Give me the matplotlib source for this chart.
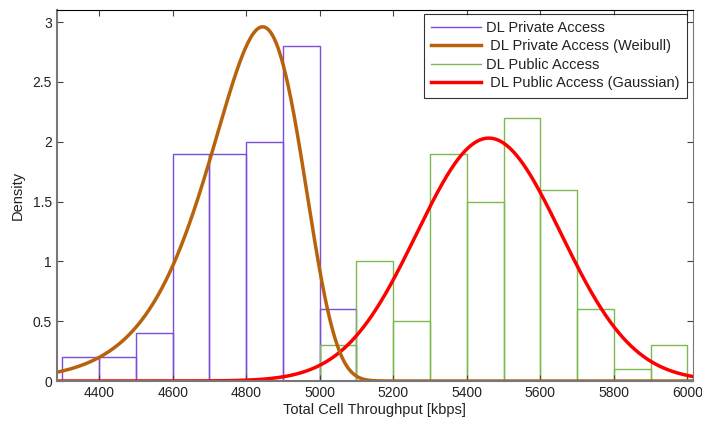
import matplotlib.pyplot as plt
from matplotlib.lines import Line2D
import numpy as np

plt.rcParams['font.family'] = ['Liberation Sans', 'DejaVu Sans']

# histogram bins (kbps) and densities (x1e-3)
bin_w = 100
priv_left = [4300, 4400, 4500, 4600, 4700, 4800, 4900, 5000]
priv_dens = [0.2, 0.2, 0.4, 1.9, 1.9, 2.0, 2.8, 0.6]
pub_left = [5000, 5100, 5200, 5300, 5400, 5500, 5600, 5700, 5800, 5900]
pub_dens = [0.3, 1.0, 0.5, 1.9, 1.5, 2.2, 1.6, 0.6, 0.1, 0.3]

# fitted distributions
wb_scale, wb_shape = 4848.0, 39.0
gs_mean, gs_sigma = 5460.0, 196.5

x_ticks = [4400, 4600, 4800, 5000, 5200, 5400, 5600, 5800, 6000]
y_ticks = [0, 0.5, 1, 1.5, 2, 2.5, 3]
y_labels = ['0', '0.5', '1', '1.5', '2', '2.5', '3']

c_priv = '#7a4fd6'
c_pub = '#7dba4e'
c_wb = '#b8620c'
c_gs = '#ff0000'

fs = 10.5

fig = plt.figure(figsize=(7.02, 4.21), dpi=100)
ax = fig.add_axes([0.081, 0.095, 0.906, 0.881])

x = np.linspace(4285, 6015, 800)
z = (x / wb_scale) ** wb_shape
wb_pdf = wb_shape / wb_scale * (x / wb_scale) ** (wb_shape - 1) * np.exp(-z) * 1e3
gs_pdf = np.exp(-0.5 * ((x - gs_mean) / gs_sigma) ** 2) / (gs_sigma * np.sqrt(2 * np.pi)) * 1e3

ax.bar(priv_left, priv_dens, width=bin_w, align='edge', fill=False,
       edgecolor=c_priv, linewidth=1.0)
ax.bar(pub_left, pub_dens, width=bin_w, align='edge', fill=False,
       edgecolor=c_pub, linewidth=1.0)
ax.plot(x, gs_pdf, color=c_gs, lw=2.5)
ax.plot(x, wb_pdf, color=c_wb, lw=2.5)

ax.set_xlim(4285, 6015)
ax.set_ylim(0, 3.1)
ax.set_xticks(x_ticks)
ax.set_yticks(y_ticks)
ax.set_yticklabels(y_labels)
ax.tick_params(direction='in', top=True, right=True, labelsize=10, length=4, colors='#444444')
for lab in ax.get_xticklabels() + ax.get_yticklabels():
    lab.set_color('#222222')
for s in ['left', 'bottom']:
    ax.spines[s].set_color('#777777')
    ax.spines[s].set_linewidth(1.5)
ax.spines['right'].set_color('#777777')
ax.spines['top'].set_color('black')

ax.set_xlabel('Total Cell Throughput [kbps]', fontsize=fs, labelpad=2, color='#222222')
ax.set_ylabel('Density', fontsize=fs, labelpad=6, color='#222222')

handles = [Line2D([], [], color=c_priv, lw=1),
           Line2D([], [], color=c_wb, lw=2.5),
           Line2D([], [], color=c_pub, lw=1),
           Line2D([], [], color=c_gs, lw=2.5)]
labels = ['DL Private Access', ' DL Private Access (Weibull)', 'DL Public Access', ' DL Public Access (Gaussian)']
leg = ax.legend(handles, labels, loc='upper right', fontsize=fs, fancybox=False, edgecolor='black',
                handlelength=3.4, handletextpad=0.35, borderpad=0.5, labelspacing=0.3,
                borderaxespad=0, bbox_to_anchor=(0.99, 0.99))
leg.get_frame().set_linewidth(0.8)
for t in leg.get_texts():
    t.set_color('#222222')

plt.savefig('out.png', dpi=100)
plt.close(fig)
